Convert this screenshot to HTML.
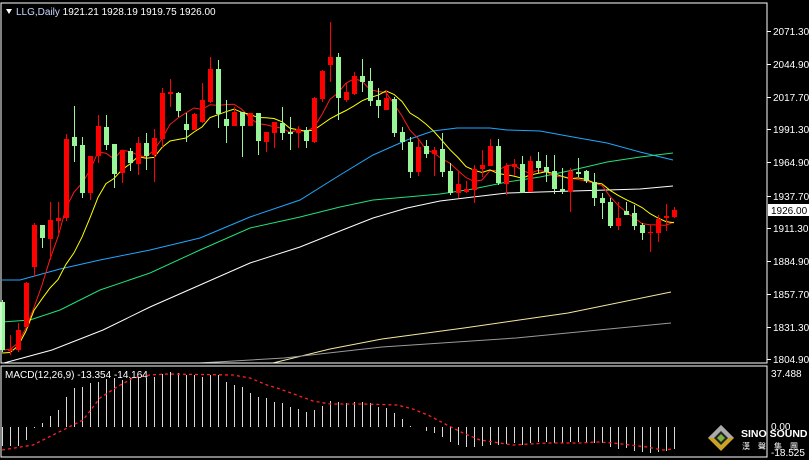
<!DOCTYPE html>
<html><head><meta charset="utf-8"><style>
html,body{margin:0;padding:0;background:#000;width:809px;height:460px;overflow:hidden}
svg{display:block}
text{font-family:"Liberation Sans","Noto Sans CJK TC",sans-serif;font-size:10px}
</style></head><body>
<svg id="s" width="809" height="460" xmlns="http://www.w3.org/2000/svg">
<rect width="809" height="460" fill="#000"/>
<g id="lines"></g>
<g id="cand"></g>
<g id="macd"></g>
<rect x="1" y="3" width="766" height="360" fill="none" stroke="#fff" stroke-width="1"/>
<rect x="1" y="366" width="766" height="91" fill="none" stroke="#fff" stroke-width="1"/>
<g id="axis" fill="#fff"></g>
<polygon points="6,9 12,9 9,14" fill="#fff"/>
<text x="16" y="15" fill="#fff"><tspan fill="#c8d8ff">LLG,Daily</tspan>  1921.21 1928.19 1919.75 1926.00</text>
<text x="5" y="378" fill="#fff">MACD(12,26,9) -13.354 -14.164</text>
<rect x="768" y="204" width="41" height="12" fill="#fff"/>
<text x="771" y="214" fill="#000">1926.00</text>
<text x="771" y="377" fill="#fff">37.488</text>
<text x="771" y="430" fill="#fff">0.00</text>
<text x="771" y="456" fill="#fff">-18.525</text>
<g transform="translate(721,438)">
<polygon points="0,-13 13,0 0,13 -13,0" fill="#c9a227"/>
<polygon points="0,-13 13,0 0,0 -13,0" fill="#aaa"/>
<polygon points="0,-7 7,0 0,7 -7,0" fill="#222"/>
<polygon points="0,-4 4,0 0,4 -4,0" fill="#7ab43c"/>
</g>
<text x="741" y="437" fill="#fff" font-weight="bold" style="font-size:10.5px">SINO SOUND</text>
<text x="742" y="449" fill="#fff" style="font-size:8px;letter-spacing:8px">漢聲集團</text>
</svg>
<script>
var NS="http://www.w3.org/2000/svg";
function el(p,t,a){var e=document.createElementNS(NS,t);for(var k in a)e.setAttribute(k,a[k]);document.getElementById(p).appendChild(e);return e;}
// [top,bottom,wickTop,wickBot,color r/g]
var C=[[302,350,300,352,'g'],[349,351,335,355,'r'],[330,350,323,352,'r'],[283,327,282,328,'r'],[225,267,223,277,'r'],[225,238,225,248,'g'],[220,239,202,260,'r'],[218,221,202,233,'r'],[139,218,134,221,'r'],[137,146,106,162,'g'],[145,193,137,198,'g'],[156,193,156,200,'r'],[126,156,115,163,'r'],[127,145,115,150,'g'],[144,174,144,188,'g'],[150,173,150,183,'r'],[151,163,148,171,'g'],[143,164,137,175,'r'],[143,156,133,170,'g'],[138,155,129,182,'r'],[93,139,88,147,'r'],[92,94,79,107,'r'],[93,111,92,117,'g'],[124,130,113,142,'g'],[114,130,113,130,'r'],[100,122,83,123,'r'],[69,102,57,103,'r'],[69,114,60,128,'g'],[119,126,100,143,'g'],[112,126,107,126,'r'],[112,126,112,157,'g'],[113,126,113,126,'r'],[113,141,113,155,'g'],[132,142,132,152,'r'],[122,133,122,148,'r'],[123,133,107,140,'g'],[132,134,117,150,'g'],[129,133,126,148,'r'],[130,141,127,148,'g'],[98,142,97,143,'r'],[71,99,70,102,'r'],[57,65,22,82,'r'],[57,98,53,120,'g'],
[92,100,83,102,'r'],[76,94,72,95,'r'],[76,82,59,92,'g'],[81,101,68,106,'g'],[100,106,88,118,'g'],[98,110,90,110,'r'],[99,133,97,137,'g'],[132,142,127,150,'g'],[142,172,137,178,'g'],[147,172,140,176,'r'],[146,154,140,158,'g'],[150,154,147,176,'r'],[149,172,133,177,'g'],[171,193,163,195,'g'],[184,193,172,198,'r'],[189,192,181,193,'r'],[169,190,165,203,'r'],[165,169,150,177,'r'],[146,166,139,166,'r'],[146,183,139,185,'g'],[166,184,163,195,'r'],[164,167,159,176,'r'],[164,193,156,193,'g'],[161,192,156,192,'r'],[161,168,152,173,'g'],[167,172,155,182,'g'],[171,189,155,194,'g'],[189,191,168,194,'g'],[171,192,168,212,'r'],[172,174,158,177,'g'],[171,181,170,183,'g'],[182,198,173,206,'g'],[198,203,193,219,'g'],[202,226,198,228,'g'],[218,226,202,230,'r'],[211,215,202,215,'g'],[213,226,205,230,'g'],[225,233,223,240,'g'],[232,233,225,252,'r'],[219,233,215,242,'r'],[216,218,204,231,'r'],[210,217,207,218,'r']];
function X(i){return 2+8*i;}
function pl(pts,col){el('lines','polyline',{points:pts.map(function(p){return p.join(',')}).join(' '),fill:'none',stroke:col,'stroke-width':1});}
pl([[2,280],[20,280],[60,269],[100,260],[150,250],[200,238],[250,217],[300,200],[340,175],[373,155],[407,140],[433,131],[457,128],[490,128],[507,130],[540,131],[573,137],[607,143],[640,152],[673,160]],'#1fa8ff');
pl([[2,322],[30,320],[60,310],[100,290],[150,273],[200,250],[250,228],[300,217],[340,207],[373,200],[407,197],[440,194],[473,189],[507,182],[540,177],[573,170],[607,162],[640,157],[673,153]],'#22e07a');
pl([[4,363],[52,350],[103,330],[150,307],[200,285],[250,263],[300,247],[340,231],[373,218],[407,208],[440,201],[473,197],[507,193],[540,192],[573,191],[607,190],[640,189],[673,186]],'#ffffff');
pl([[273,363],[330,349],[382,339],[464,328],[568,313],[671,292]],'#f5e9a0');
pl([[199,363],[284,358],[382,347],[516,338],[671,323]],'#9a9a9a');
var cl=C.map(function(c){return c[4]=='r'?c[0]:c[1];});
function sma(n,off){var p=[];for(var i=0;i<cl.length;i++){var s=0,k=0;for(var j=Math.max(0,i-n+1);j<=i;j++){s+=cl[j];k++;}p.push([X(i),(s/k+off).toFixed(1)]);}return p;}
pl(sma(5,0),'#ff1a1a');pl(sma(10,3),'#ffff00');
C.forEach(function(c,i){var x=X(i),col=c[4]=='r'?'#ff0000':'#98f598';
el('cand','line',{x1:x+0.5,x2:x+0.5,y1:c[2],y2:c[3],stroke:col});
el('cand','rect',{x:x-2,y:c[0],width:5,height:Math.max(1,c[1]-c[0]),fill:col});});
var H=[446,446,446,440,428,423,416,410,397,388,387,383,382,379,378,380,378,377,378,377,374,372,373,375,375,377,375,375,382,385,387,393,397,398,402,403,407,409,412,410,406,401,402,403,402,402,403,407,408,413,419,426,427,431,433,437,442,445,447,447,446,445,445,444,443,445,443,442,442,443,443,442,442,442,443,443,447,449,448,451,452,453,452,451,449];
H.forEach(function(h,i){var x=X(i)+0.5;el('macd','line',{x1:x,x2:x,y1:427,y2:h,stroke:'#d8d8d8'});});
var S=[[2,450],[33,445],[67,428],[83,420],[100,398],[117,387],[133,378],[150,375],[167,374],[233,375],[250,378],[267,385],[280,389],[313,401],[330,404],[363,404],[397,405],[413,409],[430,416],[447,425],[463,433],[480,440],[513,445],[547,443],[580,443],[597,442],[613,443],[647,447],[663,450],[673,449]];
el('macd','polyline',{points:S.map(function(p){return p.join(',')}).join(' '),fill:'none',stroke:'#ff2020','stroke-width':1.3,'stroke-dasharray':'3,3'});
var T=[[2071.30,31],[2044.90,64],[2017.70,97],[1991.30,129],[1964.90,162],[1937.70,196],[1911.30,228],[1884.90,261],[1857.70,294],[1831.30,327],[1804.90,359]];
T.forEach(function(t){el('axis','line',{x1:767,x2:771,y1:t[1]+0.5,y2:t[1]+0.5,stroke:'#fff'});var tx=el('axis','text',{x:773,y:t[1]+4,fill:'#fff'});tx.textContent=t[0].toFixed(2);});
</script>
</body></html>
